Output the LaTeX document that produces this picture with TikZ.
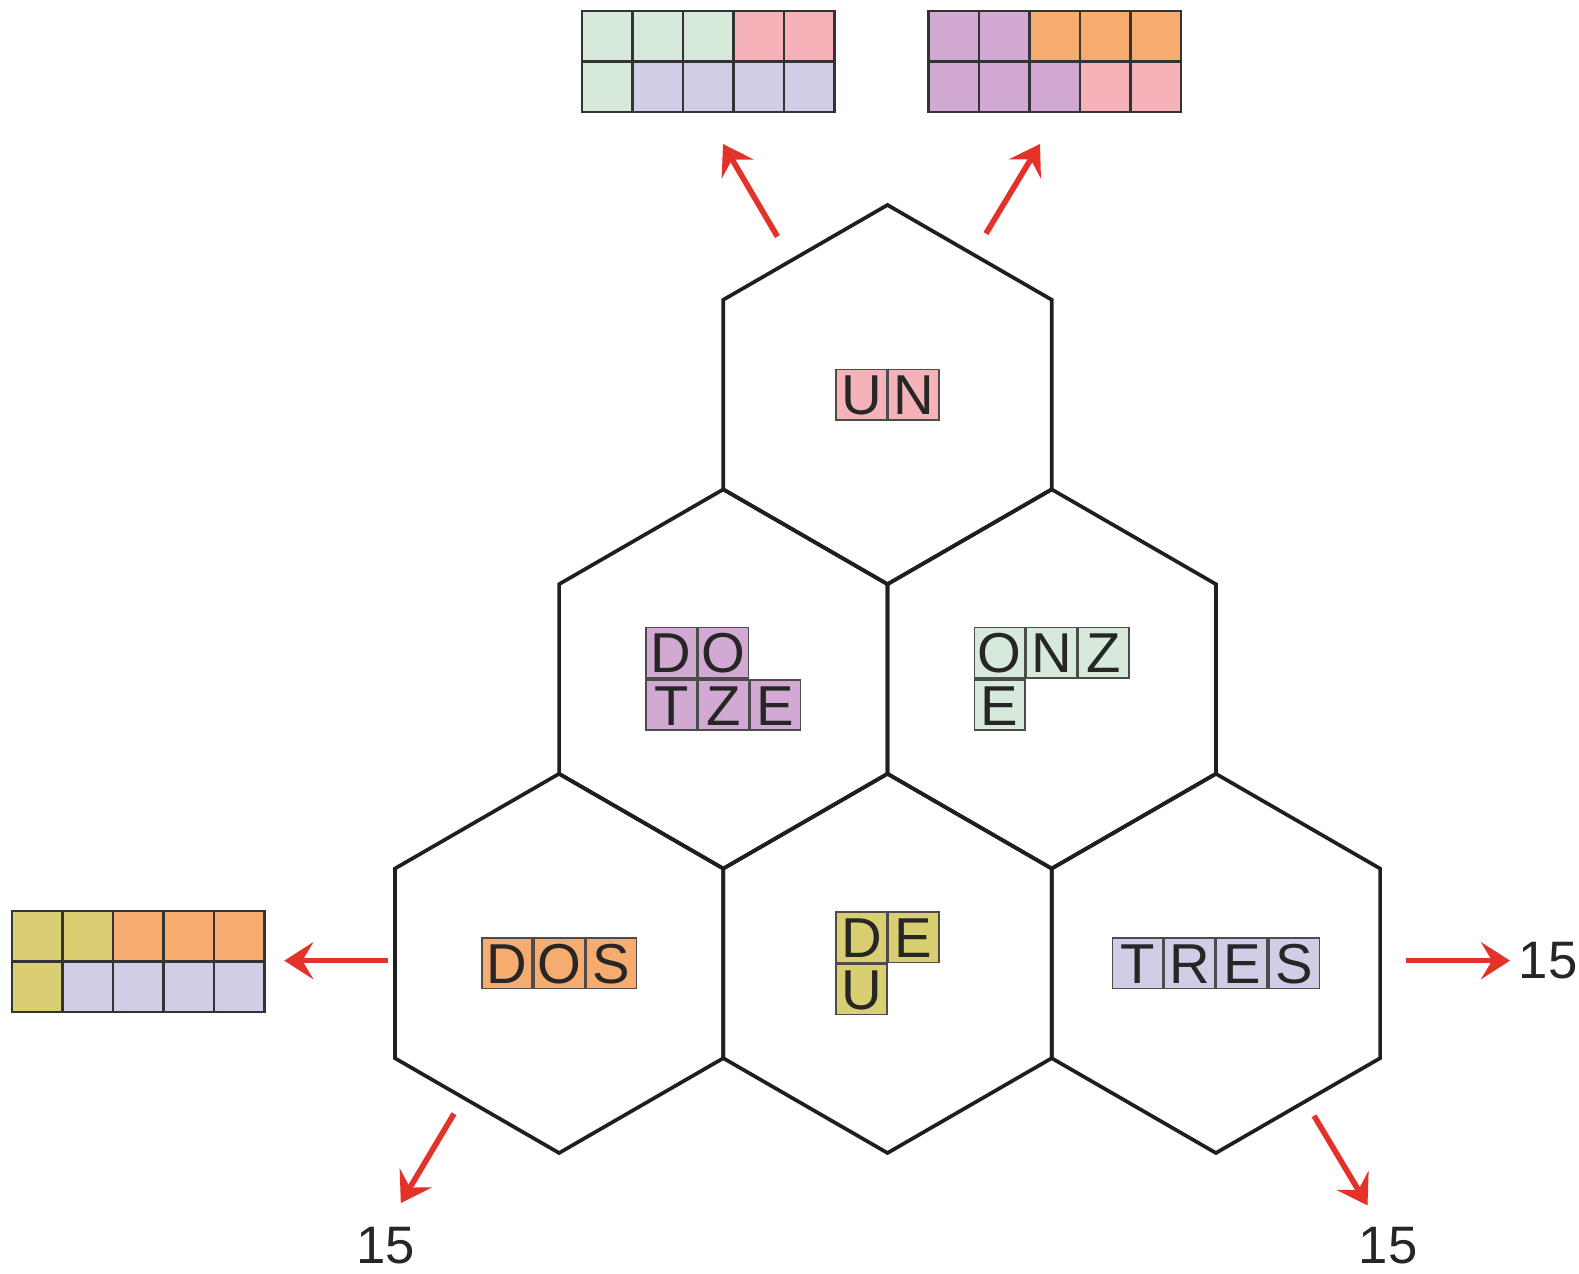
\documentclass[tikz,border=0pt]{standalone}
\usepackage{fontspec}
\setmainfont{Liberation Sans}
\usepackage{tikz}
\usetikzlibrary{arrows.meta,positioning}

\definecolor{greenc}{HTML}{D6E9DA}
\definecolor{pinkc}{HTML}{F5B3B9}
\definecolor{lavc}{HTML}{D1CDE6}
\definecolor{purplec}{HTML}{D2A9D2}
\definecolor{orangec}{HTML}{F5AC6E}
\definecolor{yellowc}{HTML}{D9CF72}
\definecolor{arrowred}{HTML}{E4312A}

\begin{document}
\begin{tikzpicture}[
  hexline/.style={draw=black!88, line width=1.05pt, line join=miter},
  tile/.style={draw=black!70, line width=0.45pt, minimum size=0.505cm,
               inner sep=0pt, text height=11.4pt, text depth=0pt,
               font=\fontsize{16}{16}\selectfont, text=black!85},
  cell/.style={draw=black!80, line width=0.7pt, minimum size=0.505cm, inner sep=0pt},
  redarrow/.style={draw=arrowred, line width=1.6pt,
                   -{Stealth[length=2.9mm,width=3.7mm,inset=1.1mm]}},
  lbl/.style={font=\fontsize{15}{15}\selectfont, text=black!85, inner sep=0pt}
]
  \useasboundingbox (0,0) rectangle (15.79,12.74);

  % hexagon centres
  \coordinate (un)    at (8.875, 8.794);
  \coordinate (dotze) at (7.233, 5.950);
  \coordinate (onze)  at (10.517,5.950);
  \coordinate (dos)   at (5.591, 3.106);
  \coordinate (deu)   at (8.875, 3.106);
  \coordinate (tres)  at (12.159,3.106);

  \foreach \c in {un,dotze,onze,dos,deu,tres}
    \draw[hexline] (\c) +(90:1.896) -- +(150:1.896) -- +(210:1.896)
      -- +(270:1.896) -- +(330:1.896) -- +(30:1.896) -- cycle;

  % UN
  \node[tile, fill=pinkc, anchor=east] (un1) at (un) {U};
  \node[tile, fill=pinkc, right=0pt of un1] (un2) {N};

  % DOTZE
  \node[tile, fill=purplec, anchor=south] (dz2) at (dotze) {O};
  \node[tile, fill=purplec, left=0pt of dz2]  (dz1) {D};
  \node[tile, fill=purplec, below=0pt of dz2] (dz4) {Z};
  \node[tile, fill=purplec, left=0pt of dz4]  (dz3) {T};
  \node[tile, fill=purplec, right=0pt of dz4] (dz5) {E};

  % ONZE
  \node[tile, fill=greenc, anchor=south] (oz2) at (onze) {N};
  \node[tile, fill=greenc, left=0pt of oz2]  (oz1) {O};
  \node[tile, fill=greenc, right=0pt of oz2] (oz3) {Z};
  \node[tile, fill=greenc, below=0pt of oz1] (oz4) {E};

  % DOS
  \node[tile, fill=orangec] (ds2) at (dos) {O};
  \node[tile, fill=orangec, left=0pt of ds2]  (ds1) {D};
  \node[tile, fill=orangec, right=0pt of ds2] (ds3) {S};

  % DEU
  \node[tile, fill=yellowc, anchor=south east] (de1) at (deu) {D};
  \node[tile, fill=yellowc, right=0pt of de1] (de2) {E};
  \node[tile, fill=yellowc, below=0pt of de1] (de3) {U};

  % TRES
  \node[tile, fill=lavc, anchor=east] (tr2) at (tres) {R};
  \node[tile, fill=lavc, left=0pt of tr2]  (tr1) {T};
  \node[tile, fill=lavc, right=0pt of tr2] (tr3) {E};
  \node[tile, fill=lavc, right=0pt of tr3] (tr4) {S};

  % colour grids
  \foreach \col [count=\i from 0] in {greenc,greenc,greenc,pinkc,pinkc}
    \node[cell, fill=\col] (ga-\i) at ({6.0725+\i*0.505}, 12.378) {};
  \foreach \col [count=\i from 0] in {greenc,lavc,lavc,lavc,lavc}
    \node[cell, fill=\col] (gb-\i) at ({6.0725+\i*0.505}, 11.873) {};
  \foreach \col [count=\i from 0] in {purplec,purplec,orangec,orangec,orangec}
    \node[cell, fill=\col] (gc-\i) at ({9.5375+\i*0.505}, 12.378) {};
  \foreach \col [count=\i from 0] in {purplec,purplec,purplec,pinkc,pinkc}
    \node[cell, fill=\col] (gd-\i) at ({9.5375+\i*0.505}, 11.873) {};
  \foreach \col [count=\i from 0] in {yellowc,yellowc,orangec,orangec,orangec}
    \node[cell, fill=\col] (ge-\i) at ({0.3725+\i*0.505}, 3.3775) {};
  \foreach \col [count=\i from 0] in {yellowc,lavc,lavc,lavc,lavc}
    \node[cell, fill=\col] (gf-\i) at ({0.3725+\i*0.505}, 2.8725) {};

  % arrow ends
  \coordinate (tl0) at (7.774, 10.374); \coordinate (tl1) at (7.23, 11.30);
  \coordinate (tr0) at (9.859, 10.404); \coordinate (tr1) at (10.40, 11.30);
  \coordinate (lf0) at (3.877, 3.133);  \coordinate (lf1) at (2.843, 3.133);
  \coordinate (rt0) at (14.06, 3.133);  \coordinate (rt1) at (15.10, 3.133);
  \coordinate (bl0) at (4.54, 1.603);   \coordinate (bl1) at (4.008, 0.71);
  \coordinate (br0) at (13.14, 1.582);  \coordinate (br1) at (13.675, 0.686);

  \draw[redarrow] (tl0) -- (tl1);
  \draw[redarrow] (tr0) -- (tr1);
  \draw[redarrow] (lf0) -- (lf1);
  \draw[redarrow] (rt0) -- (rt1);
  \draw[redarrow] (bl0) -- (bl1);
  \draw[redarrow] (br0) -- (br1);

  \node[lbl, anchor=west] (n15r) at (15.18, 3.13) {15};
  \node[lbl] (n15bl) at (3.86, 0.28) {15};
  \node[lbl] (n15br) at (13.88, 0.28) {15};
\end{tikzpicture}
\end{document}
